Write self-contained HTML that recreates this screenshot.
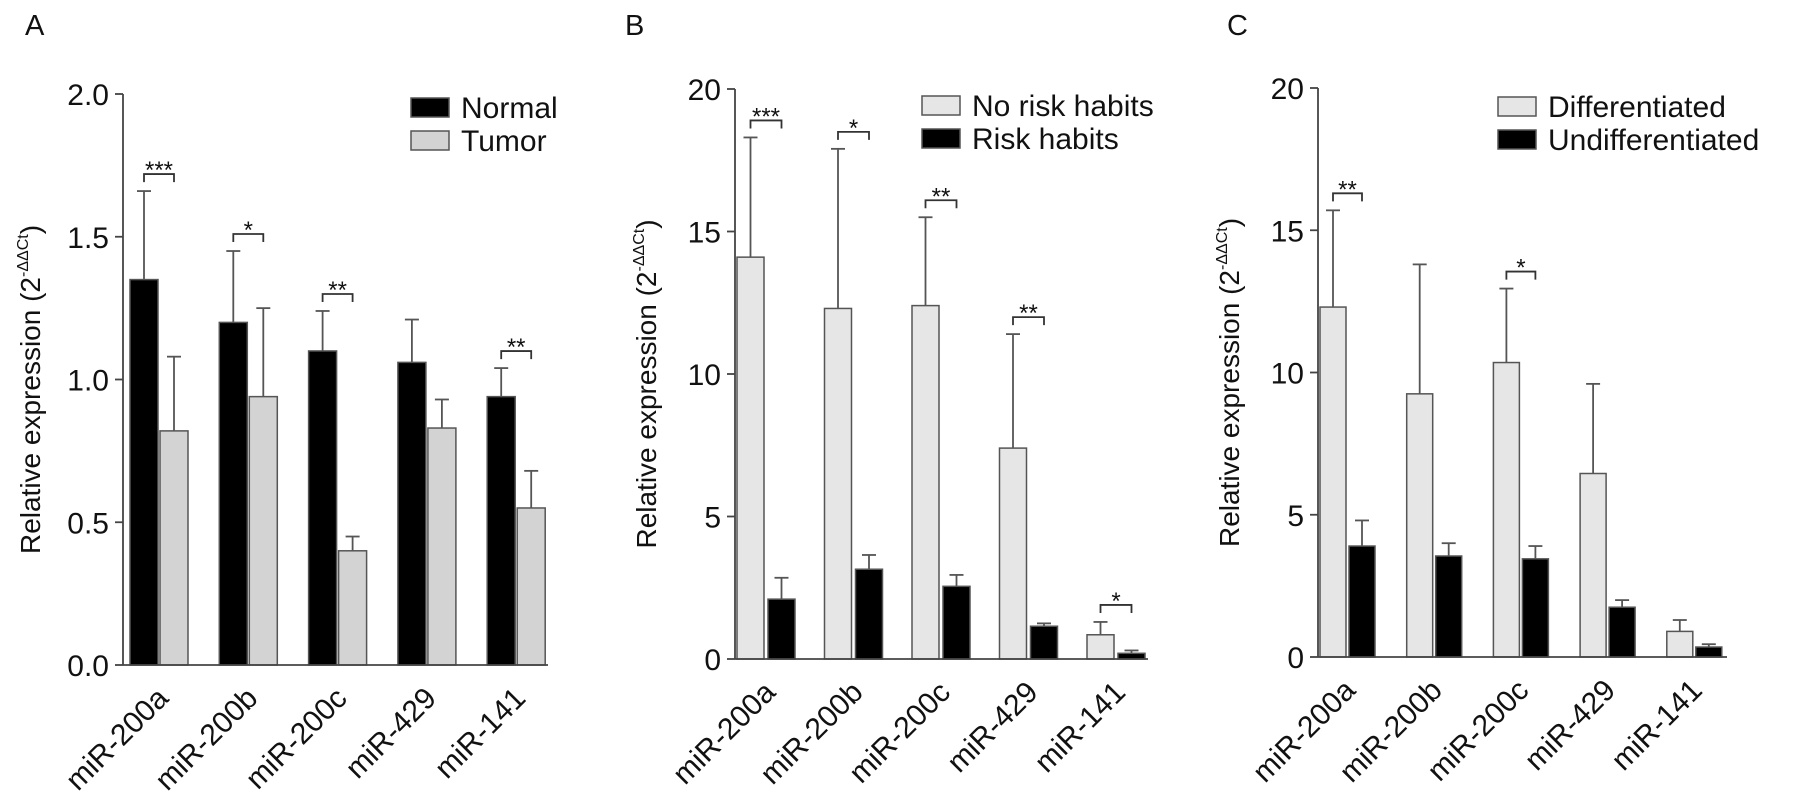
<!DOCTYPE html>
<html><head><meta charset="utf-8"><style>
html,body{margin:0;padding:0;background:#fff;}
svg{display:block;font-family:"Liberation Sans",Arial,sans-serif;}
</style></head><body>
<svg id="fig" width="1795" height="811" viewBox="0 0 1795 811" xmlns="http://www.w3.org/2000/svg"></svg>
<script>
const categories = ["miR-200a","miR-200b","miR-200c","miR-429","miR-141"];
// Panel A
const aSeries1 = [1.35,1.20,1.10,1.06,0.94];
const aErr1    = [1.66,1.45,1.24,1.21,1.04];
const aSeries2 = [0.82,0.94,0.40,0.83,0.55];
const aErr2    = [1.08,1.25,0.45,0.93,0.68];
const aStars   = ["***","*","**","","**"];
const aTicks   = ["0.0","0.5","1.0","1.5","2.0"];
// Panel B
const bSeries1 = [14.1,12.3,12.4,7.4,0.85];
const bErr1    = [18.3,17.9,15.5,11.4,1.3];
const bSeries2 = [2.1,3.15,2.55,1.15,0.2];
const bErr2    = [2.85,3.65,2.95,1.25,0.3];
const bStars   = ["***","*","**","**","*"];
const bTicks   = ["0","5","10","15","20"];
// Panel C
const cSeries1 = [12.3,9.25,10.35,6.45,0.9];
const cErr1    = [15.7,13.8,12.95,9.6,1.3];
const cSeries2 = [3.9,3.55,3.45,1.75,0.35];
const cErr2    = [4.8,4.0,3.9,2.0,0.45];
const cStars   = ["**","","*","",""];
const cTicks   = ["0","5","10","15","20"];

const NS="http://www.w3.org/2000/svg";
const svg=document.getElementById('fig');
function mk(tag,attrs,parent,text){const e=document.createElementNS(NS,tag);for(const k in attrs)e.setAttribute(k,attrs[k]);if(text!==undefined)e.textContent=text;(parent||svg).appendChild(e);return e;}

function panel(cfg){
  const g=mk('g',{});
  
  
  const ymax=parseFloat(cfg.ticks[cfg.ticks.length-1]);
  const y=v=>cfg.y0-(v/ymax)*(cfg.y0-cfg.ytop);
  const gx=i=>cfg.ax+cfg.off+i*cfg.pitch;
  const t=mk('text',{x:cfg.labX,y:35,'font-size':29,fill:'#111'},g,cfg.id);
  
  
  const ya=mk('line',{x1:cfg.ax,y1:cfg.ytop,x2:cfg.ax,y2:cfg.y0,stroke:'#444','stroke-width':1.8},g);
  
  
  cfg.ticks.forEach(tk=>{
    const yy=y(parseFloat(tk));
    mk('line',{x1:cfg.ax-8,y1:yy,x2:cfg.ax,y2:yy,stroke:'#444','stroke-width':1.8},g);
    const tl=mk('text',{x:cfg.ax-14,y:yy+11,'font-size':30,'text-anchor':'end',fill:'#111'},g,tk);
    
    
  });
  const yt=mk('text',{transform:`translate(${cfg.titleX},${(cfg.y0+cfg.ytop)/2+10}) rotate(-90)`,'font-size':28,'text-anchor':'middle',fill:'#111'},g);
  
  
  yt.appendChild(document.createTextNode('Relative expression (2'));
  mk('tspan',{'font-size':16,dy:-12},yt,'-ΔΔCt');
  mk('tspan',{dy:12},yt,')');
  const bw=cfg.bw;
  categories.forEach((c,i)=>{
    const x1=gx(i), x2=x1+bw+cfg.gap;
    const vals=[[cfg.s1[i],cfg.e1[i],cfg.c1,x1],[cfg.s2[i],cfg.e2[i],cfg.c2,x2]];
    vals.forEach((v,k)=>{
      const cx=v[3]+bw/2;
      mk('line',{x1:cx,y1:y(v[0]),x2:cx,y2:y(v[1]),stroke:'#555','stroke-width':1.8},g);
      mk('line',{x1:cx-7,y1:y(v[1]),x2:cx+7,y2:y(v[1]),stroke:'#555','stroke-width':1.8},g);
      const r=mk('rect',{x:v[3],y:y(v[0]),width:bw,height:cfg.y0-y(v[0]),fill:v[2],stroke:'#555','stroke-width':1.5},g);
      
      
    });
    if(cfg.stars[i]){
      const top=Math.min(y(cfg.e1[i]),y(cfg.e2[i]))-17;
      const a=x1+bw/2, b=x2+bw/2;
      mk('path',{d:`M${a} ${top+8}V${top}H${b}V${top+8}`,fill:'none',stroke:'#333','stroke-width':1.8},g);
      const st=mk('text',{x:(a+b)/2,y:top+4,'font-size':24,'text-anchor':'middle',fill:'#111'},g,cfg.stars[i]);
      
      
    }
    const cl=mk('text',{transform:`translate(${x2+bw-18},${cfg.y0+35}) rotate(-45)`,'font-size':30,'text-anchor':'end',fill:'#111'},g,c);
    
    
  });
  const xa=mk('line',{x1:cfg.ax,y1:cfg.y0,x2:cfg.xend,y2:cfg.y0,stroke:'#444','stroke-width':1.8},g);
  
  
  [[cfg.c1,cfg.n1],[cfg.c2,cfg.n2]].forEach((L,k)=>{
    const ly=cfg.legY+k*33;
    const lr=mk('rect',{x:cfg.legX,y:ly,width:38,height:19,fill:L[0],stroke:'#555','stroke-width':1.5},g);
    
    
    const lt=mk('text',{x:cfg.legX+50,y:ly+20,'font-size':30,fill:'#111'},g,L[1]);
    
    
  });
}
panel({id:'A',labX:25,ax:123,y0:665,ytop:94,xend:548,off:7,pitch:89.3,bw:28,gap:2,ticks:aTicks,s1:aSeries1,e1:aErr1,s2:aSeries2,e2:aErr2,stars:aStars,c1:'#000',c2:'#d3d3d3',n1:'Normal',n2:'Tumor',titleX:40,legX:411,legY:98});
panel({id:'B',labX:625,ax:735,y0:659,ytop:89,xend:1148,off:2,pitch:87.5,bw:27,gap:4,ticks:bTicks,s1:bSeries1,e1:bErr1,s2:bSeries2,e2:bErr2,stars:bStars,c1:'#e6e6e6',c2:'#000',n1:'No risk habits',n2:'Risk habits',titleX:656,legX:922,legY:96});
panel({id:'C',labX:1227,ax:1318,y0:657,ytop:88,xend:1727,off:2,pitch:86.7,bw:26,gap:3,ticks:cTicks,s1:cSeries1,e1:cErr1,s2:cSeries2,e2:cErr2,stars:cStars,c1:'#e6e6e6',c2:'#000',n1:'Differentiated',n2:'Undifferentiated',titleX:1239,legX:1498,legY:97});
</script>
</body></html>
